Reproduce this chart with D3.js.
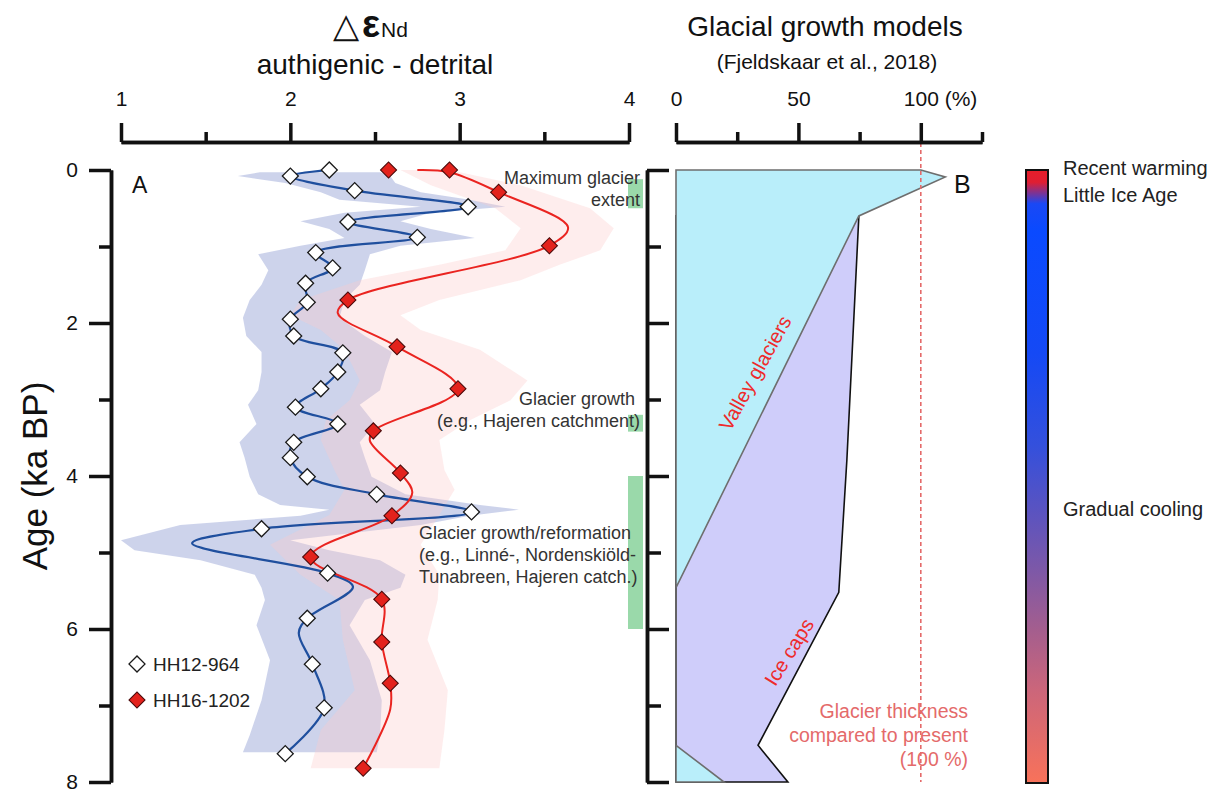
<!DOCTYPE html>
<html>
<head>
<meta charset="utf-8">
<script src="https://cdn.jsdelivr.net/npm/d3@7"></script>
<style>
  body { margin: 0; background: #fff; }
  svg { font-family: "Liberation Sans", Arial, sans-serif; }
</style>
</head>
<body>
<svg></svg>
<script>
// two-panel figure: eps Nd difference (A) and glacier growth models (B)

const width = 1223;
const height = 794;

const svg = d3.select("svg").attr("width", width).attr("height", height);

// HH12-964 markers (age ka BP, delta eps Nd)
const hh12Age = [0.0, 0.08, 0.27, 0.48, 0.68, 0.88, 1.08, 1.28, 1.48, 1.73, 1.95, 2.17, 2.39, 2.64,
  2.86, 3.1, 3.32, 3.56, 3.76, 4.01, 4.24, 4.47, 4.69, 5.27, 5.86, 6.46, 7.03, 7.63];
const hh12Val = [2.23, 2.0, 2.38, 3.05, 2.34, 2.75, 2.15, 2.25, 2.09, 2.1, 2.0, 2.02, 2.31, 2.28,
  2.18, 2.03, 2.28, 2.02, 2.0, 2.1, 2.51, 3.07, 1.83, 2.22, 2.1, 2.13, 2.2, 1.97];

// HH16-1202 markers
const hh16Age = [0.0, 0.0, 0.29, 0.99, 1.7, 2.31, 2.86, 3.41, 3.96, 4.52, 5.06, 5.61, 6.17, 6.71, 7.82];
const hh16Val = [2.58, 2.94, 3.23, 3.53, 2.34, 2.63, 2.99, 2.49, 2.65, 2.6, 2.12, 2.54, 2.54, 2.59, 2.43];

// fitted curves as drawn (markers plus turning points of the curves)
const hh12CurveAge = [0.0, 0.08, 0.27, 0.48, 0.68, 0.88, 1.08, 1.28, 1.48, 1.73, 1.95, 2.17, 2.39, 2.64,
  2.86, 3.1, 3.32, 3.56, 3.76, 4.01, 4.24, 4.47, 4.69, 4.88, 5.27, 5.45, 5.86, 6.05, 6.46, 7.03, 7.63];
const hh12CurveVal = [2.23, 2.0, 2.38, 3.05, 2.34, 2.75, 2.15, 2.25, 2.09, 2.1, 2.0, 2.02, 2.31, 2.28,
  2.18, 2.03, 2.28, 2.02, 2.0, 2.1, 2.51, 3.07, 1.83, 1.42, 2.22, 2.37, 2.1, 2.05, 2.13, 2.2, 1.97];
const hh16CurveAge = [0.0, 0.03, 0.29, 0.75, 0.99, 1.7, 1.87, 2.31, 2.86, 3.41, 3.54, 3.96, 4.22, 4.52,
  5.06, 5.61, 6.17, 6.71, 7.05, 7.82];
const hh16CurveVal = [2.75, 2.94, 3.23, 3.64, 3.53, 2.34, 2.28, 2.63, 2.99, 2.49, 2.47, 2.65, 2.72, 2.6,
  2.12, 2.54, 2.54, 2.59, 2.59, 2.43];

// uncertainty envelopes
const hh12BandAge = [0.03, 0.08, 0.17, 0.29, 0.39, 0.48, 0.56, 0.67, 0.77, 0.89, 0.99, 1.1, 1.31, 1.5, 1.7,
  1.93, 2.17, 2.38, 2.64, 2.88, 3.07, 3.32, 3.56, 3.76, 4.01, 4.24, 4.38, 4.44, 4.52, 4.64, 4.84, 4.97,
  5.1, 5.29, 5.46, 5.62, 5.95, 6.41, 6.93, 7.39, 7.61];
const hh12BandLo = [1.82, 1.69, 1.97, 2.18, 2.29, 2.77, 2.32, 2.06, 2.23, 2.32, 2.06, 1.81, 1.87, 1.83, 1.76,
  1.72, 1.74, 1.83, 1.83, 1.81, 1.75, 1.8, 1.7, 1.73, 1.76, 1.81, 1.94, 2.23, 2.06, 1.35, 1.0, 1.08,
  1.47, 1.79, 1.83, 1.85, 1.8, 1.88, 1.83, 1.76, 1.72];
const hh12BandHi = [2.53, 2.59, 2.62, 2.77, 3.06, 3.27, 2.83, 2.65, 2.83, 3.09, 2.65, 2.47, 2.44, 2.41, 2.32,
  2.29, 2.44, 2.6, 2.56, 2.53, 2.41, 2.5, 2.41, 2.44, 2.48, 2.68, 3.12, 3.35, 3.06, 2.77, 2.0, 2.23,
  2.53, 2.68, 2.65, 2.44, 2.35, 2.47, 2.54, 2.53, 2.51];
const hh16BandAge = [0.0, 0.2, 0.5, 0.76, 1.05, 1.24, 1.44, 1.7, 1.9, 2.09, 2.35, 2.75, 3.01, 3.27, 3.53,
  3.92, 4.18, 4.51, 4.9, 5.29, 5.62, 6.14, 6.8, 7.32, 7.82];
const hh16BandLo = [2.65, 2.83, 3.21, 3.36, 3.27, 2.88, 2.41, 2.06, 2.0, 2.18, 2.32, 2.41, 2.35, 2.21, 2.18,
  2.26, 2.32, 2.23, 1.88, 2.06, 2.29, 2.31, 2.38, 2.18, 2.12];
const hh16BandHi = [2.94, 3.36, 3.77, 3.91, 3.83, 3.59, 3.36, 2.88, 2.65, 2.77, 3.12, 3.4, 3.3, 3.06, 2.88,
  2.91, 2.97, 2.88, 2.77, 2.88, 2.87, 2.81, 2.93, 2.91, 2.88];

// glacier growth periods (green bars)
const growthStart = [0.12, 3.2, 4.0];
const growthEnd = [0.5, 3.42, 6.0];

// glacial growth models (% of present thickness)
const valleyAge = [0, 0.09, 0.6, 5.46, 7.52, 8];
const valleyPct = [100, 110, 74.7, 0, 0, 19.6];
const iceCapAge = [0.6, 3.79, 5.52, 7.52, 8];
const iceCapPct = [74.7, 69.8, 66.5, 33.5, 45.7];

// ticks
const ageMajor = [0, 2, 4, 6, 8];
const ageMinor = [1, 3, 5, 7];
const epsMajor = [1, 2, 3, 4];
const epsMinor = [1.5, 2.5, 3.5];
const pctMajor = [0, 50, 100];
const pctMinor = [25, 75, 125];

// climate colour bar
const climateOffset = [0, 0.02, 0.055, 0.1, 0.3, 0.45, 0.55, 0.65, 0.75, 0.85, 1];
const climateColor = ["#e51e2a", "#e01e32", "#1a48f5", "#0a4aff", "#1549f5", "#3450dc", "#5853c2",
  "#7c58a8", "#a45e8e", "#cc667a", "#f8725a"];

//scales
const y = d3.scaleLinear().domain([0, 8]).range([170, 782]);
const xA = d3.scaleLinear().domain([1, 4]).range([121, 629]);
const xB = d3.scaleLinear().domain([0, 125]).range([676, 982]);

function styleAxis(g) {
  g.select(".domain").attr("stroke", "#111").attr("stroke-width", 3.5);
  g.selectAll(".tick line").attr("stroke", "#111").attr("stroke-width", 3.5);
  g.selectAll(".tick text")
    .attr("font-size", 21)
    .attr("fill", "#111")
    .attr("font-family", "Liberation Sans, Arial, sans-serif");
}

//panel A bands
const bandArea = d3.area()
  .y(d => y(d.age))
  .x0(d => xA(d.lo))
  .x1(d => xA(d.hi));

const hh12Band = hh12BandAge.map((a, i) => ({ age: a, lo: hh12BandLo[i], hi: hh12BandHi[i] }));
const hh16Band = hh16BandAge.map((a, i) => ({ age: a, lo: hh16BandLo[i], hi: hh16BandHi[i] }));

svg.append("path").attr("d", bandArea(hh12Band)).attr("fill", "#a8b4dc").attr("fill-opacity", 0.58);
svg.append("path").attr("d", bandArea(hh16Band)).attr("fill", "#fbcaca").attr("fill-opacity", 0.35);

//green bars
svg.selectAll(".growth")
  .data(growthStart)
  .join("rect")
  .attr("x", xA(4) - 1)
  .attr("width", 15)
  .attr("y", d => y(d))
  .attr("height", (d, i) => y(growthEnd[i]) - y(d))
  .attr("fill", "#9ad9aa");

//curves
const curve = d3.line()
  .x(d => xA(d.v))
  .y(d => y(d.age))
  .curve(d3.curveCatmullRom.alpha(0.5));

svg.append("path")
  .attr("d", curve(hh12CurveAge.map((a, i) => ({ age: a, v: hh12CurveVal[i] }))))
  .attr("fill", "none")
  .attr("stroke", "#1f4f9e")
  .attr("stroke-width", 2.2);

svg.append("path")
  .attr("d", curve(hh16CurveAge.map((a, i) => ({ age: a, v: hh16CurveVal[i] }))))
  .attr("fill", "none")
  .attr("stroke", "#ea2420")
  .attr("stroke-width", 2);

//markers
const diamond = d3.symbol(d3.symbolSquare, 128);

svg.selectAll(".hh12")
  .data(hh12Age)
  .join("path")
  .attr("d", diamond)
  .attr("transform", (d, i) => `translate(${xA(hh12Val[i])},${y(d)}) rotate(45)`)
  .attr("fill", "#fff")
  .attr("stroke", "#1a1a1a")
  .attr("stroke-width", 1.3);

svg.selectAll(".hh16")
  .data(hh16Age)
  .join("path")
  .attr("d", diamond)
  .attr("transform", (d, i) => `translate(${xA(hh16Val[i])},${y(d)}) rotate(45)`)
  .attr("fill", "#e3221c")
  .attr("stroke", "#4a0a0a")
  .attr("stroke-width", 1.1);

//ejes panel A
const axA = svg.append("g").attr("transform", "translate(0,142)")
  .call(d3.axisTop(xA).tickValues(epsMajor).tickFormat(d3.format("d")).tickSize(19).tickSizeOuter(0).tickPadding(17));
styleAxis(axA);
const axAm = svg.append("g").attr("transform", "translate(0,142)")
  .call(d3.axisTop(xA).tickValues(epsMinor).tickFormat("").tickSize(10).tickSizeOuter(0));
styleAxis(axAm);

const ayA = svg.append("g").attr("transform", "translate(111,0)")
  .call(d3.axisLeft(y).tickValues(ageMajor).tickFormat(d3.format("d")).tickSize(22).tickSizeOuter(0).tickPadding(11));
styleAxis(ayA);
const ayAm = svg.append("g").attr("transform", "translate(111,0)")
  .call(d3.axisLeft(y).tickValues(ageMinor).tickFormat("").tickSize(12).tickSizeOuter(0));
styleAxis(ayAm);

//panel B areas
const pctArea = d3.area()
  .y(d => y(d.age))
  .x0(xB(0))
  .x1(d => xB(d.p));

svg.append("path")
  .attr("d", pctArea(iceCapAge.map((a, i) => ({ age: a, p: iceCapPct[i] }))))
  .attr("fill", "#cfcdfa")
  .attr("stroke", "#111")
  .attr("stroke-width", 1.6);

svg.append("path")
  .attr("d", pctArea(valleyAge.map((a, i) => ({ age: a, p: valleyPct[i] }))))
  .attr("fill", "#b9eefa")
  .attr("stroke", "#6e6e6e")
  .attr("stroke-width", 1.6);

svg.append("line")
  .attr("x1", xB(100)).attr("x2", xB(100))
  .attr("y1", 143).attr("y2", y(8))
  .attr("stroke", "#e46a6a")
  .attr("stroke-width", 1.6)
  .attr("stroke-dasharray", "4,3");

//ejes panel B
const axB = svg.append("g").attr("transform", "translate(0,142)")
  .call(d3.axisTop(xB).tickValues(pctMajor).tickFormat(d3.format("d")).tickSize(19).tickSizeOuter(0).tickPadding(17));
styleAxis(axB);
axB.selectAll(".tick text")
  .filter(d => d === 100)
  .attr("text-anchor", "start")
  .attr("dx", -17.5)
  .text("100 (%)");
const axBm = svg.append("g").attr("transform", "translate(0,142)")
  .call(d3.axisTop(xB).tickValues(pctMinor).tickFormat("").tickSize(10).tickSizeOuter(0));
styleAxis(axBm);

const ayB = svg.append("g").attr("transform", "translate(647,0)")
  .call(d3.axisRight(y).tickValues(ageMajor).tickFormat("").tickSize(22).tickSizeOuter(0));
styleAxis(ayB);
const ayBm = svg.append("g").attr("transform", "translate(647,0)")
  .call(d3.axisRight(y).tickValues(ageMinor).tickFormat("").tickSize(14).tickSizeOuter(0));
styleAxis(ayBm);

//colour bar
const grad = svg.append("defs").append("linearGradient")
  .attr("id", "climate")
  .attr("x1", 0).attr("x2", 0).attr("y1", 0).attr("y2", 1);
grad.selectAll("stop")
  .data(climateOffset)
  .join("stop")
  .attr("offset", d => d)
  .attr("stop-color", (d, i) => climateColor[i]);

svg.append("rect")
  .attr("x", 1026).attr("y", y(0))
  .attr("width", 22).attr("height", y(8) - y(0) + 1)
  .attr("fill", "url(#climate)")
  .attr("stroke", "#111")
  .attr("stroke-width", 2);

//titulos
const t1 = svg.append("text").attr("x", 333).attr("y", 37).attr("text-anchor", "start").attr("fill", "#111");
t1.append("tspan").attr("font-size", 34).attr("font-family", "DejaVu Sans").attr("font-weight", 200).text("\u25b3");
t1.append("tspan").attr("font-size", 38).attr("dx", 3).attr("font-weight", "bold").text("\u03b5");
t1.append("tspan").attr("font-size", 21).attr("dx", 1).text("Nd");

svg.append("text").attr("x", 375).attr("y", 74).attr("text-anchor", "middle")
  .attr("font-size", 28).attr("fill", "#111").text("authigenic - detrital");

svg.append("text").attr("x", 825).attr("y", 36).attr("text-anchor", "middle")
  .attr("font-size", 28).attr("fill", "#111").text("Glacial growth models");

svg.append("text").attr("x", 827).attr("y", 69).attr("text-anchor", "middle")
  .attr("font-size", 21).attr("fill", "#111").text("(Fjeldskaar et al., 2018)");

//etiqueta y
svg.append("text")
  .attr("transform", "rotate(-90)")
  .attr("x", -476)
  .attr("y", 47)
  .attr("text-anchor", "middle")
  .attr("font-size", 35)
  .attr("fill", "#111")
  .text("Age (ka BP)");

//panel letters
svg.append("text").attr("x", 132).attr("y", 193).attr("font-size", 23).attr("fill", "#111").text("A");
svg.append("text").attr("x", 954).attr("y", 193).attr("font-size", 25).attr("fill", "#111").text("B");

//annotations
function lines(x, y0, dy, anchor, size, color, arr) {
  arr.forEach((s, i) => {
    svg.append("text")
      .attr("x", x).attr("y", y0 + i * dy)
      .attr("text-anchor", anchor)
      .attr("font-size", size)
      .attr("fill", color)
      .text(s);
  });
}
lines(640, 184, 22, "end", 18, "#333", ["Maximum glacier", "extent"]);
lines(640, 405, 22, "end", 18, "#333", ["Glacier growth\u00a0", "(e.g., Hajeren catchment)"]);
lines(419, 539, 22, "start", 18, "#333",
  ["Glacier growth/reformation", "(e.g., Linn\u00e9-, Nordenski\u00f6ld-", "Tunabreen, Hajeren catch.)"]);
lines(968, 718, 24, "end", 19.5, "#e46a6a", ["Glacier thickness", "compared to present", "(100 %)"]);

svg.append("text")
  .attr("transform", "translate(755,373) rotate(-61)")
  .attr("text-anchor", "middle")
  .attr("dy", "0.35em")
  .attr("font-size", 20)
  .attr("fill", "#ee2b2b")
  .text("Valley glaciers");

svg.append("text")
  .attr("transform", "translate(789,652) rotate(-58)")
  .attr("text-anchor", "middle")
  .attr("dy", "0.35em")
  .attr("font-size", 20)
  .attr("fill", "#ee2b2b")
  .text("Ice caps");

//colour bar labels
lines(1063, 175, 27, "start", 20, "#222", ["Recent warming", "Little Ice Age"]);
lines(1063, 516, 0, "start", 20, "#222", ["Gradual cooling"]);

//leyenda
const legend = svg.append("g");
legend.append("path").attr("d", diamond).attr("transform", "translate(137,664) rotate(45)")
  .attr("fill", "#fff").attr("stroke", "#1a1a1a").attr("stroke-width", 1.3);
legend.append("path").attr("d", diamond).attr("transform", "translate(137,700) rotate(45)")
  .attr("fill", "#e3221c").attr("stroke", "#4a0a0a").attr("stroke-width", 1.1);
legend.append("text").attr("x", 153).attr("y", 671).attr("font-size", 19).attr("fill", "#222").text("HH12-964");
legend.append("text").attr("x", 153).attr("y", 707).attr("font-size", 19).attr("fill", "#222").text("HH16-1202");
</script>
</body>
</html>
